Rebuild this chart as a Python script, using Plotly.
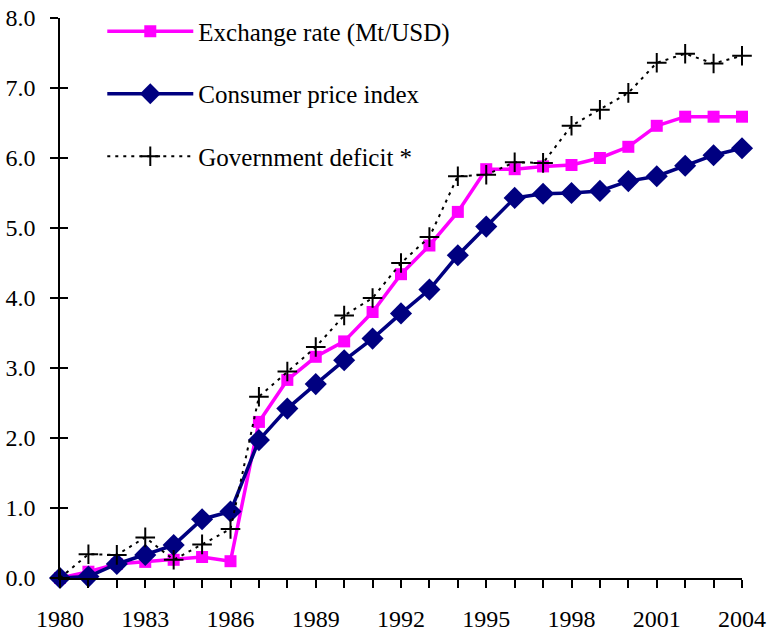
import plotly.graph_objects as go

years = list(range(1980, 2005))
exchange_rate = [0.0, 0.09, 0.2, 0.23, 0.26, 0.30, 0.24, 2.23, 2.83, 3.16, 3.38, 3.80, 4.34,
                 4.75, 5.23, 5.84, 5.84, 5.88, 5.90, 6.00, 6.16, 6.46, 6.59, 6.59, 6.59]
cpi = [0.0, 0.02, 0.2, 0.33, 0.47, 0.84, 0.95, 1.97, 2.42, 2.77, 3.11, 3.42, 3.78,
       4.12, 4.61, 5.02, 5.43, 5.49, 5.50, 5.53, 5.67, 5.74, 5.89, 6.04, 6.14]
deficit = [0.0, 0.34, 0.33, 0.58, 0.26, 0.48, 0.70, 2.59, 2.95, 3.30, 3.75, 4.0, 4.5,
           4.87, 5.74, 5.76, 5.94, 5.93, 6.46, 6.69, 6.93, 7.36, 7.49, 7.35, 7.46]

font = "Liberation Serif"

fig = go.Figure()
fig.add_trace(go.Scatter(
    x=years, y=exchange_rate, name="Exchange rate (Mt/USD)", mode="lines+markers",
    line=dict(color="#FF00FF", width=3.5),
    marker=dict(symbol="square", size=12, color="#FF00FF"),
    cliponaxis=False, legendgroup="a"))
fig.add_trace(go.Scatter(
    x=years, y=cpi, name="Consumer price index", mode="lines+markers",
    line=dict(color="#000080", width=3.5),
    marker=dict(symbol="diamond", size=17, color="#000080"),
    cliponaxis=False, legendgroup="b"))
fig.add_trace(go.Scatter(
    x=years, y=deficit, name="Government deficit *", mode="lines+markers",
    line=dict(color="black", width=2, dash="3px,5px"),
    marker=dict(symbol="cross-thin", size=14, line=dict(color="black", width=2)),
    cliponaxis=False, legendgroup="c"))
# invisible helper trace so the overlay axis (inner half of y ticks) is drawn
fig.add_trace(go.Scatter(x=[years[0]], y=[0], yaxis="y2", mode="markers",
                         marker=dict(opacity=0), showlegend=False, hoverinfo="skip"))

fig.update_layout(
    width=769, height=631,
    margin=dict(l=60, r=27, t=18, b=53, autoexpand=False),
    plot_bgcolor="white", paper_bgcolor="white",
    font=dict(family=font, size=24, color="black"),
    showlegend=True,
    legend=dict(x=0.062, y=1.017, xanchor="left", yanchor="top",
                bgcolor="rgba(0,0,0,0)", itemwidth=86, tracegroupgap=27,
                traceorder="grouped", font=dict(family=font, size=25)),
    xaxis=dict(range=[1980, 2004], tick0=1980, dtick=3, showgrid=False, zeroline=False,
               showline=True, linecolor="black", linewidth=1.5, automargin=False,
               ticks="outside", ticklen=8, tickcolor="black", tickwidth=1.5,
               ticklabelstandoff=10,
               minor=dict(dtick=1, tick0=1980, ticks="outside", ticklen=8,
                          tickcolor="black", tickwidth=1.5, showgrid=False),
               tickfont=dict(family=font, size=24)),
    yaxis=dict(range=[0, 8], dtick=1, tickformat=".1f", showgrid=False, zeroline=False,
               showline=True, linecolor="black", linewidth=1.5, automargin=False,
               ticks="outside", ticklen=8, tickcolor="black", tickwidth=1.5,
               ticklabelstandoff=10,
               tickfont=dict(family=font, size=24)),
    yaxis2=dict(range=[0, 8], dtick=1, overlaying="y", side="left", anchor="x",
                showgrid=False, zeroline=False, showline=False, showticklabels=False,
                automargin=False,
                ticks="inside", ticklen=8, tickcolor="black", tickwidth=1.5),
)

fig.write_html("out.html", config={"displayModeBar": False},
               post_script="document.body.style.margin='0';document.body.style.overflow='hidden';")
